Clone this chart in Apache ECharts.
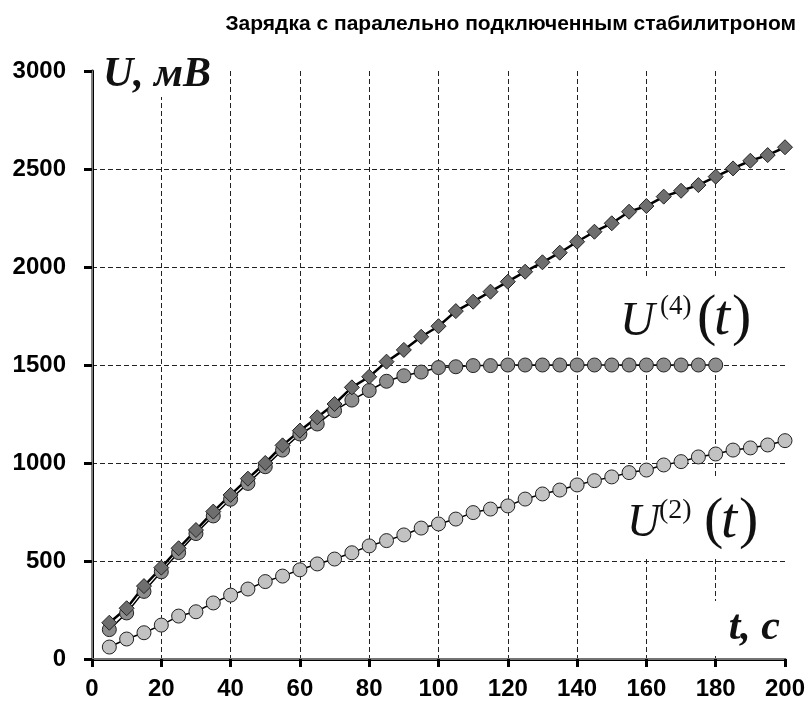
<!DOCTYPE html>
<html>
<head>
<meta charset="utf-8">
<script src="https://cdn.jsdelivr.net/npm/echarts@6/dist/echarts.min.js"></script>
<style>
  html, body { margin: 0; padding: 0; background: #fff; }
  #chart { width: 809px; height: 709px; }
</style>
</head>
<body>
<div id="chart"></div>
<script>
// Time samples, s
const tAll = [5,10,15,20,25,30,35,40,45,50,55,60,65,70,75,80,85,90,95,100,
              105,110,115,120,125,130,135,140,145,150,155,160,165,170,175,180,185,190,195,200];
const tZener = [5,10,15,20,25,30,35,40,45,50,55,60,65,70,75,80,85,90,95,100,
                105,110,115,120,125,130,135,140,145,150,155,160,165,170,175,180];

// Voltage, mV: capacitor charging without the zener diode
const uCharge = [185,259,372,466,565,658,752,837,920,1000,1090,1165,1233,1301,1386,1440,1517,1577,1644,1698,
                 1775,1823,1874,1925,1976,2024,2073,2129,2180,2223,2282,2311,2359,2389,2418,2461,2503,2542,2571,2611];
// Voltage, mV: U(4)(t), zener diode connected in parallel
const uZener4 = [150,235,345,445,543,640,730,815,896,981,1066,1148,1199,1267,1321,1370,1417,1445,1464,1487,
                 1491,1497,1497,1500,1500,1500,1500,1500,1500,1500,1500,1500,1500,1500,1500,1500];
// Voltage, mV: U(2)(t)
const uZener2 = [61,102,134,173,219,241,286,326,357,395,423,455,485,510,542,577,604,633,668,689,
                 714,747,765,781,816,842,862,888,910,929,951,964,990,1007,1031,1046,1066,1077,1092,1114];

const xTicks = { min: 0, max: 200, step: 20 };
const yTicks = { min: 0, max: 3000, step: 500 };

const titleText = 'Зарядка с паралельно подключенным стабилитроном';

const pairs = (xs, ys) => xs.map((x, i) => [x, ys[i]]);

const chart = echarts.init(document.getElementById('chart'), null, { renderer: 'canvas' });

const tickFont = { fontFamily: 'Liberation Sans, Arial, sans-serif', fontWeight: 'bold', fontSize: 24, color: '#000' };
const serif = 'Liberation Serif, "Times New Roman", serif';
const dash = { color: '#222', width: 1, type: [5, 3] };
const plain = v => String(v);

// white plate behind an annotation, drawn above the grid lines but below the series
const plate = (x, y, w, h) => ({ type: 'rect', z: 1, shape: { x, y, width: w, height: h }, style: { fill: '#fff' } });
const txt = (text, x, y, font, align) => ({
  type: 'text', z: 3, x, y,
  style: { text, font, fill: '#111', align: align || 'left', verticalAlign: 'middle' }
});

chart.setOption({
  animation: false,
  backgroundColor: '#fff',
  title: {
    text: titleText,
    right: 8, top: 9,
    textStyle: { fontFamily: 'Liberation Sans, Arial, sans-serif', fontWeight: 'bold', fontSize: 21, color: '#000' }
  },
  grid: { left: 92, right: 24, top: 71, bottom: 50 },
  xAxis: [{
    type: 'value', min: xTicks.min, max: xTicks.max, interval: xTicks.step,
    axisLine: { show: true, onZero: false, lineStyle: { color: '#000', width: 3 } },
    axisTick: { show: true, inside: false, length: 8, lineStyle: { color: '#000', width: 3 } },
    axisLabel: Object.assign({ margin: 18, formatter: plain }, tickFont),
    splitLine: { show: true, showMinLine: false, showMaxLine: false, lineStyle: dash }
  }, {
    type: 'value', position: 'top', min: xTicks.min, max: xTicks.max,
    axisLine: { show: true, lineStyle: { color: '#9a9a9a', width: 1.5 } },
    axisTick: { show: false }, axisLabel: { show: false }, splitLine: { show: false }
  }],
  yAxis: [{
    type: 'value', min: yTicks.min, max: yTicks.max, interval: yTicks.step,
    axisLine: { show: true, onZero: false, lineStyle: { color: '#000', width: 3 } },
    axisTick: { show: true, inside: false, length: 8, lineStyle: { color: '#000', width: 3 } },
    axisLabel: Object.assign({ margin: 26, formatter: plain }, tickFont),
    splitLine: { show: true, showMinLine: false, showMaxLine: false, lineStyle: dash }
  }, {
    type: 'value', position: 'right', min: yTicks.min, max: yTicks.max,
    axisLine: { show: true, lineStyle: { color: '#a8a8a8', width: 1.5 } },
    axisTick: { show: false }, axisLabel: { show: false }, splitLine: { show: false }
  }],
  series: [
    {
      name: 'U(2)', type: 'line', data: pairs(tAll, uZener2),
      symbol: 'circle', symbolSize: 14, showAllSymbol: true,
      lineStyle: { color: '#000', width: 1.5 },
      itemStyle: { color: '#c2c2c2', borderColor: '#222', borderWidth: 1 }
    },
    {
      name: 'U(4)', type: 'line', data: pairs(tZener, uZener4),
      symbol: 'circle', symbolSize: 14, showAllSymbol: true,
      lineStyle: { color: '#000', width: 1.5 },
      itemStyle: { color: '#8e8e8e', borderColor: '#222', borderWidth: 1 }
    },
    {
      name: 'U', type: 'line', data: pairs(tAll, uCharge),
      symbol: 'diamond', symbolSize: 15, showAllSymbol: true,
      lineStyle: { color: '#000', width: 2.5 },
      itemStyle: { color: '#6e6e6e', borderColor: '#222', borderWidth: 1 }
    }
  ],
  graphic: [
    // axis captions
    plate(95, 58, 131, 39),
    txt('U, мВ', 103, 75, 'italic bold 42px ' + serif),
    plate(712, 601, 70, 55),
    txt('t, c', 780, 628, 'italic bold 42px ' + serif, 'right'),
    // U(4)(t)
    plate(606, 277, 159, 83),
    txt('U', 620, 322, 'italic 48px ' + serif),
    txt('(4)', 660, 307, '27px ' + serif),
    txt('(', 697, 319, '58px ' + serif),
    txt('t', 714, 319, 'italic 58px ' + serif),
    txt(')', 732, 319, '58px ' + serif)
  ].concat([
    // U(2)(t)
    plate(620, 478, 160, 81),
    txt('U', 627, 524, 'italic 46px ' + serif),
    txt('(2)', 659, 511, '28px ' + serif),
    txt('(', 704, 522, '58px ' + serif),
    txt('t', 721, 522, 'italic 58px ' + serif),
    txt(')', 739, 522, '58px ' + serif)
  ])
});
</script>
</body>
</html>
